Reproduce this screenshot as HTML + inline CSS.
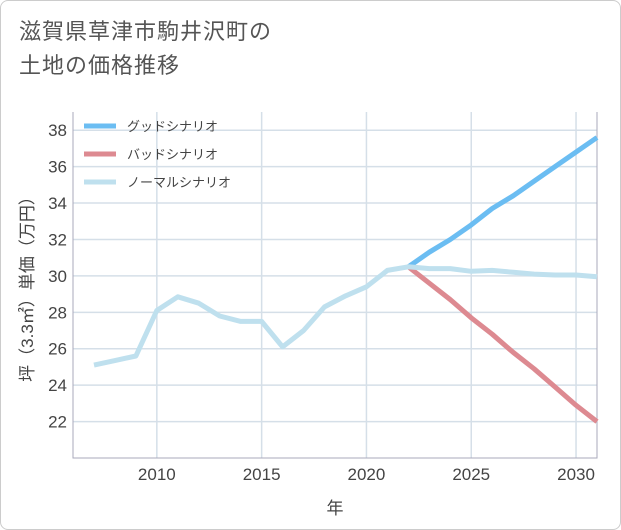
<!DOCTYPE html>
<html><head><meta charset="utf-8"><style>
body{margin:0;background:#fff;font-family:"Liberation Sans","Noto Sans CJK JP",sans-serif;}
#card{position:absolute;left:0;top:0;width:619px;height:528px;border:1px solid #ccc;border-radius:8px;background:#fff;}
#title{position:absolute;left:18px;top:14px;font-size:22px;line-height:34px;color:#555;letter-spacing:1px;}
</style></head><body>
<div id="card">
<div id="title">滋賀県草津市駒井沢町の<br>土地の価格推移</div>
<svg id="chart" width="621" height="530" style="position:absolute;left:-1px;top:-1px"></svg>
</div>
<script>
const years=[2007,2008,2009,2010,2011,2012,2013,2014,2015,2016,2017,2018,2019,2020,2021,2022,2023,2024,2025,2026,2027,2028,2029,2030,2031];
const normalValues=[25.1,25.35,25.6,28.1,28.85,28.5,27.8,27.5,27.5,26.1,27.0,28.3,28.9,29.4,30.3,30.5,30.4,30.4,30.25,30.3,30.2,30.1,30.05,30.05,29.95];
const forecastYears=[2022,2023,2024,2025,2026,2027,2028,2029,2030,2031];
const goodValues=[30.5,31.3,32.0,32.8,33.7,34.4,35.2,36.0,36.8,37.6];
const badValues=[30.5,29.6,28.7,27.7,26.8,25.8,24.9,23.9,22.9,22.0];
const xTicks=[2010,2015,2020,2025,2030];
const yTicks=[22,24,26,28,30,32,34,36,38];
const legendLabels=["グッドシナリオ","バッドシナリオ","ノーマルシナリオ"];
const legendColors=["#6bbdf2","#dd8a91","#bfe0ee"];

const L=73,R=597,T=112,B=458,x0=2006,x1=2031,y0=20,y1=39;
const sx=v=>L+(v-x0)/(x1-x0)*(R-L);
const sy=v=>B-(v-y0)/(y1-y0)*(B-T);
const svg=document.getElementById('chart');
const NS='http://www.w3.org/2000/svg';
function mk(tag,attrs,parent){const e=document.createElementNS(NS,tag);for(const k in attrs)e.setAttribute(k,attrs[k]);(parent||svg).appendChild(e);return e;}

for(const t of yTicks){
  const l=mk('line',{x1:L,x2:R,y1:sy(t),y2:sy(t),stroke:'#d5dfe8','stroke-width':1.5});
  
  
  const tx=mk('text',{x:L-6,y:sy(t)+6,'text-anchor':'end','font-size':17,fill:'#444'});
  tx.textContent=t;
  
  
}
for(const t of xTicks){
  const l=mk('line',{x1:sx(t),x2:sx(t),y1:T,y2:B,stroke:'#d5dfe8','stroke-width':1.5});
  
  
  const tx=mk('text',{x:sx(t),y:B+22,'text-anchor':'middle','font-size':17,fill:'#444'});
  tx.textContent=t;
  
  
}
const ax=mk('path',{d:`M${L},${T}V${B}H${R}V${T}`,fill:'none',stroke:'#aab','stroke-width':1});



function line(xs,ys,color,name){
  const d=xs.map((x,i)=>(i?'L':'M')+sx(x).toFixed(1)+','+sy(ys[i]).toFixed(1)).join('');
  const p=mk('path',{d,fill:'none',stroke:color,'stroke-width':5,'stroke-linejoin':'round'});
  
  
}
line(forecastYears,badValues,legendColors[1],'bad-scenario-line');
line(forecastYears,goodValues,legendColors[0],'good-scenario-line');
line(years,normalValues,legendColors[2],'normal-scenario-line');

legendLabels.forEach((lab,i)=>{
  const y=126+i*28;
  const l=mk('line',{x1:84,x2:116,y1:y,y2:y,stroke:legendColors[i],'stroke-width':5});
  
  
  const t=mk('text',{x:127,y:y+5,'font-size':13,fill:'#444'});
  t.textContent=lab;
  
  
});
const xt=mk('text',{x:(L+R)/2,y:514,'text-anchor':'middle','font-size':17,fill:'#444'});
xt.textContent='年';


const yt=mk('text',{x:0,y:0,'text-anchor':'middle','font-size':17,fill:'#444',transform:`translate(33,${(T+B)/2}) rotate(-90)`});
yt.textContent='坪（3.3㎡）単価（万円）';


</script>
</body></html>
